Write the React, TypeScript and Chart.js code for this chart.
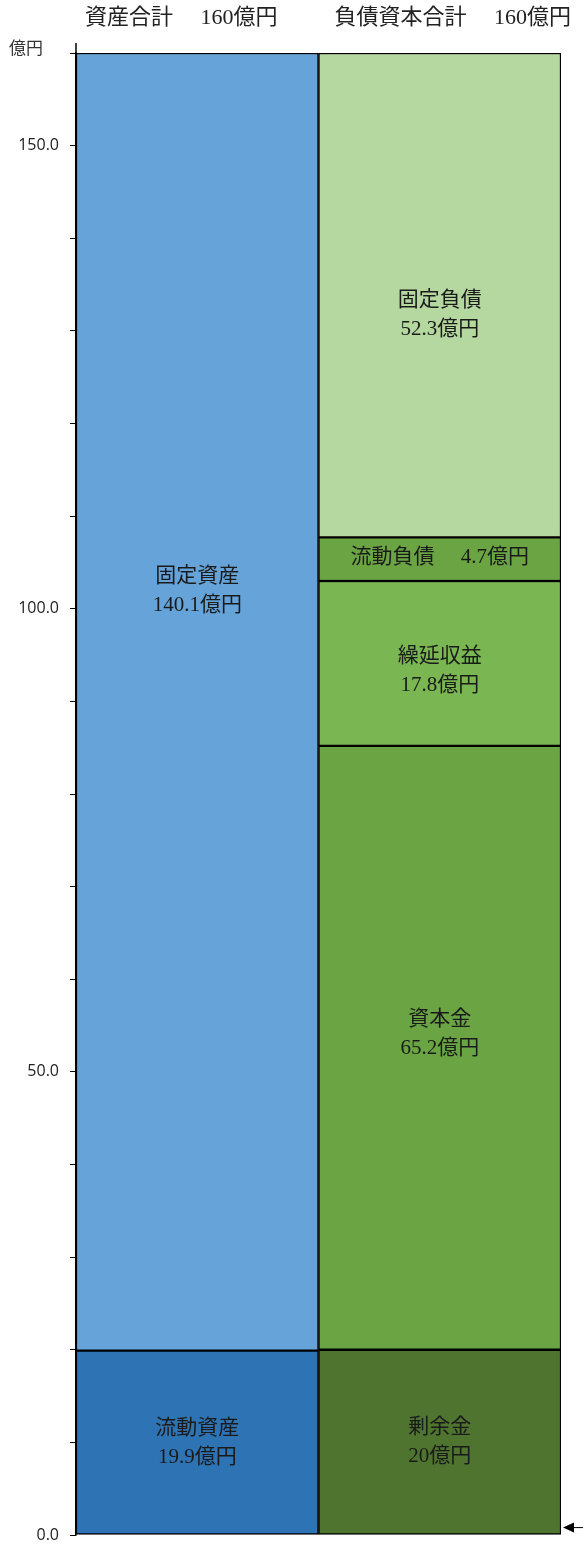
import React, { useEffect, useRef } from "react";
import { Chart, registerables } from "chart.js";

Chart.register(...registerables);

const categories = ["資産", "負債資本"];
const totalLabels = ["資産合計\u3000 160億円", "負債資本合計\u3000 160億円"];
const unitLabel = "億円";

const assetNames = ["流動資産", "固定資産"];
const assetValues = [19.9, 140.1];
const assetColors = ["#2E74B5", "#65A3D9"];

const liabNames = ["剰余金", "資本金", "繰延収益", "流動負債", "固定負債"];
const liabValues = [20, 65.2, 17.8, 4.7, 52.3];
const liabLabelText = ["20億円", "65.2億円", "17.8億円", "4.7億円", "52.3億円"];
const liabColors = ["#4E7430", "#6BA543", "#7AB752", "#6BA543", "#B5D7A0"];
const singleLine = [false, false, false, true, false];

const yMax = 160;
const yStep = 10;
const labeledTicks = [0, 50, 100, 150];

// label placement tweaks (pixels), separate from the data
const assetLabelDy = [0, -111];
const liabLabelDy = [0, -14, 8, -2, 20];

const labelFont = "'Liberation Serif', 'DejaVu Serif', 'Noto Sans CJK JP', serif";

export default function App() {
  const ref = useRef<HTMLCanvasElement | null>(null);

  useEffect(() => {
    document.body.style.margin = "0";
    const canvas = ref.current!;
    const datasets: any[] = [];
    assetNames.forEach((n, i) => {
      datasets.push({
        label: n,
        data: [assetValues[i], null],
        backgroundColor: assetColors[i],
        borderColor: "#000",
        borderWidth: 1.5,
        borderSkipped: false,
        _text: [n, assetValues[i].toFixed(1) + "億円"],
        _single: false,
        _dy: assetLabelDy[i],
      });
    });
    liabNames.forEach((n, i) => {
      datasets.push({
        label: n,
        data: [null, liabValues[i]],
        backgroundColor: liabColors[i],
        borderColor: "#000",
        borderWidth: 1.5,
        borderSkipped: false,
        _text: [n, liabLabelText[i]],
        _single: singleLine[i],
        _dy: liabLabelDy[i],
      });
    });

    const labelPlugin = {
      id: "segLabels",
      afterDatasetsDraw(chart: any) {
        const ctx = chart.ctx;
        ctx.save();
        ctx.fillStyle = "#1a1a1a";
        ctx.textAlign = "center";
        ctx.textBaseline = "middle";
        ctx.font = "21px " + labelFont;
        chart.data.datasets.forEach((ds: any, di: number) => {
          const meta = chart.getDatasetMeta(di);
          meta.data.forEach((bar: any, idx: number) => {
            if (ds.data[idx] == null) return;
            const yc = (bar.y + bar.base) / 2 + ds._dy;
            const xc = bar.x;
            if (ds._single) {
              ctx.fillText(ds._text[0] + "\u3000 " + ds._text[1], xc, yc);
            } else {
              ctx.fillText(ds._text[0], xc, yc - 14.5);
              ctx.fillText(ds._text[1], xc, yc + 14.5);
            }
          });
        });
        // titles
        ctx.font = "22px " + labelFont;
        ctx.fillStyle = "#222";
        const xs = chart.scales.x;
        const offsets = [-16, 13];
        totalLabels.forEach((t, i) => {
          ctx.fillText(t, xs.getPixelForValue(i) + offsets[i], 18);
        });
        // unit
        ctx.font = "17px 'Noto Sans CJK JP', sans-serif";
        ctx.fillStyle = "#333";
        ctx.fillText(unitLabel, 26, 48);
        // axis top extension
        const ys = chart.scales.y;
        const ca = chart.chartArea;
        ctx.strokeStyle = "#000";
        ctx.lineWidth = 1.5;
        ctx.beginPath();
        ctx.moveTo(ca.left, ca.top);
        ctx.lineTo(ca.left, ca.top - 10);
        ctx.stroke();
        // arrow
        const ay = ys.getPixelForValue(0.8);
        ctx.lineWidth = 1;
        ctx.beginPath();
        ctx.moveTo(583, ay);
        ctx.lineTo(570, ay);
        ctx.stroke();
        ctx.fillStyle = "#000";
        ctx.beginPath();
        ctx.moveTo(563, ay);
        ctx.lineTo(574, ay - 5);
        ctx.lineTo(574, ay + 5);
        ctx.closePath();
        ctx.fill();
        ctx.restore();
      },
    };

    const chart = new Chart(canvas, {
      type: "bar",
      data: { labels: categories, datasets },
      options: {
        animation: false,
        responsive: false,
        maintainAspectRatio: false,
        layout: { padding: { left: 0, right: 22, top: 53, bottom: 9 } },
        plugins: { legend: { display: false }, tooltip: { enabled: false } },
        datasets: { bar: { barPercentage: 1, categoryPercentage: 1 } },
        scales: {
          x: { stacked: true, display: false },
          y: {
            stacked: true,
            min: 0,
            max: yMax,
            afterFit(scale: any) {
              scale.width = 76;
              scale.paddingTop = 0;
              scale.paddingBottom = 0;
            },
            border: { display: true, color: "#000", width: 1.5 },
            grid: {
              display: true,
              drawOnChartArea: false,
              drawTicks: true,
              tickLength: 6,
              color: "#000",
              lineWidth: 1,
            },
            ticks: {
              stepSize: yStep,
              padding: 11,
              color: "#222",
              font: { family: "'Open Sans', 'Liberation Sans', sans-serif", size: 16 },
              autoSkip: false,
              callback: (v: any) => (labeledTicks.includes(Number(v)) ? Number(v).toFixed(1) : ""),
            },
          },
        },
      } as any,
      plugins: [labelPlugin],
    });
    return () => chart.destroy();
  }, []);

  return (
    <div style={{ width: 583, height: 1544 }}>
      <canvas ref={ref} width={583} height={1544} style={{ width: 583, height: 1544, display: "block" }} />
    </div>
  );
}
